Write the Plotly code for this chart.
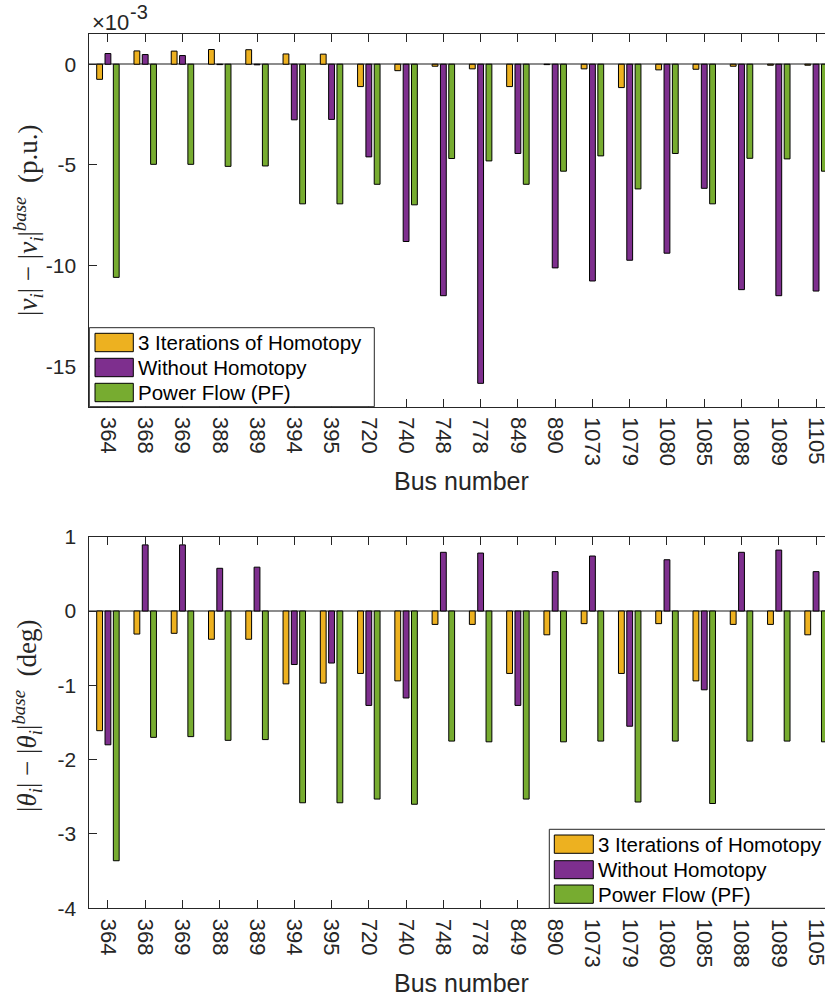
import plotly.graph_objects as go

# Bus identifiers along the horizontal axis
buses = ["364", "368", "369", "388", "389", "394", "395", "720", "740", "748",
         "778", "849", "890", "1073", "1079", "1080", "1085", "1088", "1089", "1105"]

# Voltage magnitude deviation from base case (units of 1e-3 p.u.)
dv_homotopy = [-0.75, 0.66, 0.65, 0.73, 0.72, 0.51, 0.50, -1.11, -0.32, -0.10,
               -0.23, -1.11, -0.02, -0.23, -1.16, -0.28, -0.25, -0.10, -0.05, -0.05]
dv_without = [0.53, 0.48, 0.43, -0.02, -0.03, -2.76, -2.74, -4.60, -8.80, -11.49,
              -15.84, -4.43, -10.11, -10.76, -9.73, -9.38, -6.16, -11.19, -11.49, -11.26]
dv_pf = [-10.58, -4.97, -4.97, -5.07, -5.05, -6.93, -6.93, -5.96, -6.98, -4.68,
         -4.80, -5.96, -5.31, -4.55, -6.19, -4.43, -6.93, -4.67, -4.70, -5.31]

# Voltage angle deviation from base case (degrees)
dth_homotopy = [-1.61, -0.31, -0.30, -0.38, -0.38, -0.98, -0.97, -0.84, -0.94, -0.18,
                -0.18, -0.84, -0.32, -0.17, -0.84, -0.17, -0.94, -0.18, -0.18, -0.32]
dth_without = [-1.80, 0.89, 0.89, 0.575, 0.59, -0.72, -0.70, -1.27, -1.17, 0.79,
               0.78, -1.27, 0.53, 0.74, -1.55, 0.69, -1.06, 0.79, 0.82, 0.53]
dth_pf = [-3.36, -1.70, -1.69, -1.74, -1.73, -2.58, -2.58, -2.53, -2.60, -1.75,
          -1.76, -2.53, -1.76, -1.75, -2.57, -1.75, -2.59, -1.75, -1.75, -1.76]

series_names = ["3 Iterations of Homotopy", "Without Homotopy", "Power Flow (PF)"]
series_colors = ["#EDB120", "#7E2F8E", "#77AC30"]

v_ticks = [0, -5, -10, -15]
v_ticktext = ["0", "-5", "-10", "-15"]
th_ticks = [1, 0, -1, -2, -3, -4]
th_ticktext = ["1", "0", "-1", "-2", "-3", "-4"]

W, H = 825, 997
AXC = "#262626"
SANS = "Liberation Sans, Arial, sans-serif"
SERIF = "Liberation Serif, Times New Roman, serif"


def fx(p):
    return p / W


def fy(p):
    return 1 - p / H


fig = go.Figure()

for vals, name, col in zip([dv_homotopy, dv_without, dv_pf], series_names, series_colors):
    fig.add_trace(go.Bar(x=buses, y=vals, name=name, marker=dict(color=col, line=dict(color="black", width=1)),
                         xaxis="x", yaxis="y", showlegend=False))
for vals, name, col in zip([dth_homotopy, dth_without, dth_pf], series_names, series_colors):
    fig.add_trace(go.Bar(x=buses, y=vals, name=name, marker=dict(color=col, line=dict(color="black", width=1)),
                         xaxis="x2", yaxis="y2", showlegend=False))

xcommon = dict(type="category", range=[-0.5, 19.24], domain=[fx(89.3), 1], automargin=False,
               tickangle=90, ticks="inside", ticklen=8, tickcolor=AXC,
               showline=True, linecolor=AXC, linewidth=1, mirror="ticks",
               showgrid=False, zeroline=False, ticklabelstandoff=5,
               tickfont=dict(family=SANS, size=22, color=AXC))
ycommon = dict(ticks="inside", ticklen=8, tickcolor=AXC, showline=True, linecolor=AXC, automargin=False,
               linewidth=1, mirror=False, showgrid=False, zeroline=True,
               zerolinecolor="#8c8c8c", zerolinewidth=1.5, ticklabelstandoff=8,
               tickfont=dict(family=SANS, size=21, color=AXC))

fig.update_layout(
    width=W, height=H,
    margin=dict(l=0, r=0, t=0, b=0, autoexpand=False),
    paper_bgcolor="white", plot_bgcolor="white",
    barmode="group", bargap=0.33, bargroupgap=0.3,
    xaxis=dict(xcommon, anchor="y"),
    yaxis=dict(ycommon, anchor="x", domain=[fy(406.7), fy(34)], range=[-17, 1.5],
               tickvals=v_ticks, ticktext=v_ticktext),
    xaxis2=dict(xcommon, anchor="y2"),
    yaxis2=dict(ycommon, anchor="x2", domain=[fy(908.3), fy(536.7)], range=[-4, 1],
                tickvals=th_ticks, ticktext=th_ticktext),
)

annotations = []
shapes = []

# Exponent marker for the voltage axis
annotations.append(dict(x=fx(90), y=fy(22), xref="paper", yref="paper", xanchor="left", yanchor="middle",
                        text="×10", showarrow=False,
                        font=dict(family=SANS, size=22, color=AXC)))
annotations.append(dict(x=fx(128), y=fy(12), xref="paper", yref="paper", xanchor="left", yanchor="middle",
                        text="-3", showarrow=False,
                        font=dict(family=SANS, size=20, color=AXC)))

# Axis titles
for yc in (481, 983):
    annotations.append(dict(x=fx(461), y=fy(yc), xref="paper", yref="paper", xanchor="center",
                            yanchor="middle", text="Bus number", showarrow=False,
                            font=dict(family=SANS, size=25, color=AXC)))
annotations.append(dict(x=fx(28), y=fy(221), xref="paper", yref="paper", xanchor="center", yanchor="middle",
                        textangle=-90, showarrow=False,
                        text="|<i>v<sub>i</sub></i>| − |<i>v<sub>i</sub></i>|<sup><i>base</i></sup>  (p.u.)",
                        font=dict(family=SERIF, size=27, color=AXC)))
annotations.append(dict(x=fx(27), y=fy(716), xref="paper", yref="paper", xanchor="center", yanchor="middle",
                        textangle=-90, showarrow=False,
                        text="|<i>θ<sub>i</sub></i>| − |<i>θ<sub>i</sub></i>|<sup><i>base</i></sup>  (deg)",
                        font=dict(family=SERIF, size=27, color=AXC)))


# Legend boxes drawn in figure pixel space
def legend(box, sw_x, txt_x, rows):
    x0, y0, x1, y1 = box
    shapes.append(dict(type="rect", xref="paper", yref="paper", x0=fx(x0), x1=fx(x1), y0=fy(y1), y1=fy(y0),
                       fillcolor="white", line=dict(color=AXC, width=1), layer="above"))
    for (r0, r1), name, col in zip(rows, series_names, series_colors):
        shapes.append(dict(type="rect", xref="paper", yref="paper", x0=fx(sw_x[0]), x1=fx(sw_x[1]),
                           y0=fy(r1), y1=fy(r0), fillcolor=col, line=dict(color="black", width=1),
                           layer="above"))
        annotations.append(dict(x=fx(txt_x), y=fy((r0 + r1) / 2), xref="paper", yref="paper",
                                xanchor="left", yanchor="middle", text=name, showarrow=False,
                                font=dict(family=SANS, size=20.5, color="black")))


legend((89.3, 327.7, 374.3, 406.7), (95, 133.3), 135.5,
       [(333.3, 351.7), (358.3, 376.7), (383.3, 401.7)])
legend((549.3, 829.3, 828, 908.3), (554.3, 593.3), 595.5,
       [(835, 853.3), (860.7, 878.7), (885, 903.3)])

fig.update_layout(annotations=annotations, shapes=shapes)

fig.write_html("out.html")
